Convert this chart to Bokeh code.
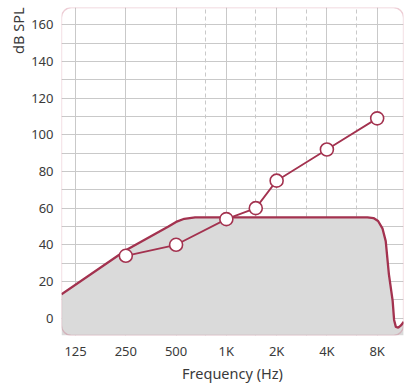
from bokeh.plotting import figure
from bokeh.models import Range1d, FixedTicker, Grid, Title, BoxAnnotation
from bokeh.embed import file_html
from bokeh.resources import INLINE

# ---- data ----
freq_ticks = [125, 250, 500, 1000, 2000, 4000, 8000]
freq_tick_labels = ["125", "250", "500", "1K", "2K", "4K", "8K"]
half_octave_freqs = [750, 1500, 3000, 6000]
db_ticks = [0, 20, 40, 60, 80, 100, 120, 140, 160]
db_grid = [0, 10, 20, 30, 40, 50, 60, 70, 80, 90, 100, 110, 120, 130, 140, 150, 160]

# measured points (circles)
meas_freq = [250, 500, 1000, 1500, 2000, 4000, 8000]
meas_db = [34, 40, 54, 60, 75, 92, 109]

# shaded curve
curve_freq = [103, 250, 450, 500, 560, 650, 800, 1000, 2000, 4000, 7000,
              7600, 8100, 8600, 9000, 9400, 9900, 10100, 10350, 10700, 11100, 11550]
curve_db = [13, 37, 50, 52.5, 54.2, 55, 55, 55, 55, 55, 55,
            54.6, 53, 49, 42, 24, 9.5, -1, -4.8, -5.2, -4, -2]

X_START, X_END = 103, 11500
Y_START, Y_END = -9.5, 169.5

LINE = "#a3324f"
FONT = "Noto Sans"
TXT = "#3a3a3a"

p = figure(width=406, height=385, x_axis_type="log",
           x_range=Range1d(X_START, X_END), y_range=Range1d(Y_START, Y_END),
           output_backend="svg", toolbar_location=None,
           min_border_left=61, min_border_right=3, min_border_top=7, min_border_bottom=50)
p.outline_line_color = None
p.background_fill_color = "white"
p.border_fill_color = "white"

# grids
p.xgrid.ticker = FixedTicker(ticks=freq_ticks)
p.ygrid.ticker = FixedTicker(ticks=db_grid)
for g in (p.xgrid[0], p.ygrid[0]):
    g.grid_line_color = "#c9c9c9"
    g.grid_line_width = 1
dash_grid = Grid(dimension=0, ticker=FixedTicker(ticks=half_octave_freqs),
                 grid_line_color="#c9c9c9", grid_line_dash="4 3", grid_line_width=1)
p.add_layout(dash_grid, "center")

# axes
p.xaxis.ticker = FixedTicker(ticks=freq_ticks)
p.xaxis.major_label_overrides = {f: l for f, l in zip(freq_ticks, freq_tick_labels)}
p.yaxis.ticker = FixedTicker(ticks=db_ticks)
for ax in (p.xaxis[0], p.yaxis[0]):
    ax.axis_line_color = None
    ax.major_tick_line_color = None
    ax.minor_tick_line_color = None
    ax.major_tick_out = 0
    ax.major_tick_in = 0
    ax.major_label_text_font = FONT
    ax.major_label_text_font_size = "13px"
    ax.major_label_text_color = TXT
p.yaxis.major_label_standoff = 8
p.xaxis.major_label_standoff = 6
p.xaxis.axis_label = "Frequency (Hz)"
p.xaxis.axis_label_text_font = FONT
p.xaxis.axis_label_text_font_size = "14.5px"
p.xaxis.axis_label_text_font_style = "normal"
p.xaxis.axis_label_text_color = TXT
p.xaxis.axis_label_standoff = 0

ytitle = Title(text="dB SPL", align="right", text_font=FONT, text_font_size="14.5px",
               text_font_style="normal", text_color=TXT, standoff=2)
p.add_layout(ytitle, "left")

# shaded area
p.varea(x=curve_freq, y1=Y_START, y2=curve_db, fill_color="#dadada", fill_alpha=1)
p.line(curve_freq, curve_db, line_color=LINE, line_width=2.3)

# measured
p.line(meas_freq, meas_db, line_color=LINE, line_width=1.8)
p.scatter(meas_freq, meas_db, marker="circle", size=13, fill_color="white",
          line_color=LINE, line_width=1.6)

# rounded frame
frame = BoxAnnotation(fill_color=None, line_color="#c25a74", line_width=1.3,
                      border_radius=10, level="overlay")
p.add_layout(frame)

open("out.html", "w").write(file_html(p, INLINE))
